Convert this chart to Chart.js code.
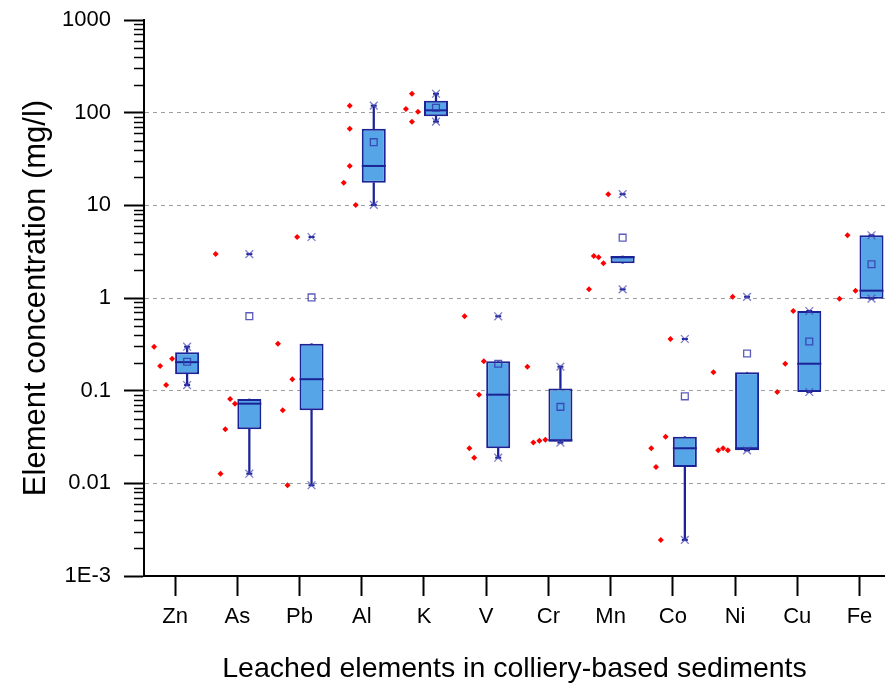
<!DOCTYPE html>
<html>
<head>
<meta charset="utf-8">
<title>Leached elements</title>
<script src="https://cdn.jsdelivr.net/npm/chart.js@4.4.1/dist/chart.umd.min.js"></script>
<style>
  html, body { margin: 0; padding: 0; background: #fff; overflow: hidden; }
  #wrap { width: 885px; height: 688px; position: relative; }
</style>
</head>
<body>
<div id="wrap"><canvas id="boxChart"></canvas></div>
<script>
// categories
const categories = ['Zn', 'As', 'Pb', 'Al', 'K', 'V', 'Cr', 'Mn', 'Co', 'Ni', 'Cu', 'Fe'];

// leached concentrations per element (mg/l), in worksheet order
const zn = [0.298, 0.185, 0.115, 0.221];
const as = [2.98, 0.0127, 0.0383, 0.0813, 0.0724];
const pb = [0.321, 0.0614, 0.00953, 0.133, 4.55];
const al = [119, 67.1, 26.6, 17.5, 10.1];
const k = [160, 109.6, 102.4, 80];
const v = [0.635, 0.0239, 0.0189, 0.0905, 0.2075];
const cr = [0.1815, 0.0275, 0.0288, 0.0296];
const mn = [1.24, 2.84, 2.75, 2.37, 13.2];
const co = [0.0239, 0.0150, 0.00245, 0.0319, 0.361];
const ni = [0.158, 0.0227, 0.0239, 0.0227, 1.03];
const cu = [0.0968, 0.1954, 0.724];
const fe = [0.984, 4.75, 1.2];
const series = [zn, as, pb, al, k, v, cr, mn, co, ni, cu, fe];

// y axis tick labels
const yTickValues = [0.001, 0.01, 0.1, 1, 10, 100, 1000];
const yTickLabels = ['1E-3', '0.01', '0.1', '1', '10', '100', '1000'];

Chart.defaults.font.family = "'Liberation Sans', Arial, sans-serif";
Chart.defaults.color = '#000';

const BOX = 0.386;   // box width, fraction of the category spacing
const BIN = 20;      // raw points in the same 20 mg/l bin are spread sideways

const boxFill = '#56a5e6';
const navy = '#1c2396';

// quartiles: empirical distribution with averaging
function quantile(sorted, p) {
    const np = sorted.length * p;
    if (Math.abs(np - Math.round(np)) < 1e-9) {
        const r = Math.round(np);
        return (sorted[r - 1] + sorted[r]) / 2;
    }
    return sorted[Math.ceil(np) - 1];
}

function boxStats(vals) {
    const s = [...vals].sort((a, b) => a - b);
    const q1 = quantile(s, 0.25);
    const med = quantile(s, 0.5);
    const q3 = quantile(s, 0.75);
    const iqr = q3 - q1;
    const hi = Math.max(q3, ...s.filter(x => x <= q3 + 1.5 * iqr));
    const lo = Math.min(q1, ...s.filter(x => x >= q1 - 1.5 * iqr));
    const mean = s.reduce((a, b) => a + b, 0) / s.length;
    return { q1, med, q3, hi, lo, mean, min: s[0], max: s[s.length - 1] };
}

// raw points sit left of the box, spread within their bin
function spread(vals, i) {
    const bins = {};
    vals.forEach(val => {
        const b = Math.floor(val / BIN);
        (bins[b] = bins[b] || []).push(val);
    });
    const seen = {};
    return vals.map(val => {
        const b = Math.floor(val / BIN);
        const m = bins[b].length;
        seen[b] = (seen[b] === undefined) ? 0 : seen[b] + 1;
        return { x: i - BOX / 2 + BOX * ((seen[b] + 0.5) / m - 0.5), y: val };
    });
}

const stats = series.map(boxStats);
const bx = i => i + BOX / 2;

const boxes = stats.map((s, i) => ({ x: bx(i), y: [s.q1, s.q3] }));
const upperWhisker = stats.map((s, i) => ({ x: bx(i), y: [s.q3, s.hi] }));
const lowerWhisker = stats.map((s, i) => ({ x: bx(i), y: [s.lo, s.q1] }));
const medians = stats.map((s, i) => ({ x: bx(i), y: s.med }));
const means = stats.map((s, i) => ({ x: bx(i), y: s.mean }));
const extremes = stats.flatMap((s, i) => [{ x: bx(i), y: s.min }, { x: bx(i), y: s.max }]);
const rawPoints = series.flatMap((vals, i) => spread(vals, i));

// minor ticks of the log axis
const minorTicks = {
    id: 'minorTicks',
    afterDraw(chart) {
        const y = chart.scales.y;
        const ctx = chart.ctx;
        const left = chart.chartArea.left;
        ctx.save();
        ctx.strokeStyle = '#000';
        ctx.lineWidth = 1.5;
        for (let d = -3; d < 3; d++) {
            for (let m = 2; m <= 9; m++) {
                const py = Math.round(y.getPixelForValue(m * Math.pow(10, d))) + 0.5;
                ctx.beginPath();
                ctx.moveTo(left - 10, py);
                ctx.lineTo(left, py);
                ctx.stroke();
            }
        }
        ctx.restore();
    }
};

new Chart(document.getElementById('boxChart'), {
    type: 'bar',
    data: {
        datasets: [
            {
                type: 'scatter', label: 'data', data: rawPoints, order: 1,
                pointStyle: 'rectRot', radius: 3, backgroundColor: '#ff0000', borderColor: '#ff0000', borderWidth: 0
            },
            {
                type: 'scatter', label: 'min/max', data: extremes, order: 2,
                pointStyle: 'crossRot', radius: 5.5, borderColor: 'rgba(70,70,180,0.7)', borderWidth: 1.3
            },
            {
                type: 'scatter', label: 'min/max bar', data: extremes, order: 2,
                pointStyle: 'line', radius: 3, borderColor: navy, borderWidth: 2
            },
            {
                type: 'scatter', label: 'mean', data: means, order: 3,
                pointStyle: 'rect', radius: 4.8, backgroundColor: 'rgba(0,0,0,0)', borderColor: 'rgba(50,50,170,0.8)', borderWidth: 1.3
            },
            {
                type: 'scatter', label: 'median', data: medians, order: 4,
                pointStyle: 'line', radius: 12, borderColor: navy, borderWidth: 2
            },
            {
                label: 'box', data: boxes, order: 5, grouped: false,
                backgroundColor: boxFill, borderColor: navy, borderWidth: 2, borderSkipped: false,
                barPercentage: BOX, categoryPercentage: 1
            },
            {
                label: 'upper whisker', data: upperWhisker, order: 6, grouped: false,
                backgroundColor: navy, borderWidth: 0, barThickness: 1.6
            },
            {
                label: 'lower whisker', data: lowerWhisker, order: 6, grouped: false,
                backgroundColor: navy, borderWidth: 0, barThickness: 1.6
            }
        ]
    },
    options: {
        responsive: true,
        maintainAspectRatio: false,
        animation: false,
        layout: { autoPadding: false, padding: { top: 20, left: 0, right: 0, bottom: 0 } },
        plugins: {
            legend: { display: false },
            tooltip: { enabled: false }
        },
        scales: {
            x: {
                type: 'linear',
                offset: false,
                min: -0.5,
                max: 11.41,
                afterBuildTicks: s => { s.ticks = categories.map((c, i) => ({ value: i })); },
                afterFit: s => { s.height = 112; s.paddingLeft = 0; s.paddingRight = 0; },
                ticks: {
                    callback: val => categories[val],
                    autoSkip: false, maxRotation: 0,
                    font: { size: 22 }, padding: 8
                },
                grid: { offset: false, drawOnChartArea: false, tickLength: 20, tickColor: '#000', tickWidth: 2 },
                border: { color: '#000', width: 2 },
                title: {
                    display: true,
                    text: 'Leached elements in colliery-based sediments',
                    font: { size: 28.5 },
                    padding: { top: 0, bottom: 2 }
                }
            },
            y: {
                type: 'logarithmic',
                min: 0.001,
                max: 1000,
                afterBuildTicks: s => { s.ticks = yTickValues.map(val => ({ value: val })); },
                afterFit: s => { s.width = 144; s.paddingTop = 0; s.paddingBottom = 0; },
                ticks: {
                    callback: val => yTickLabels[yTickValues.indexOf(val)],
                    font: { size: 22 }, padding: 13
                },
                grid: {
                    color: c => (c.tick && c.tick.value > 0.001 && c.tick.value < 1000) ? '#9e9e9e' : 'rgba(0,0,0,0)',
                    lineWidth: 1,
                    tickLength: 20, tickColor: '#000', tickWidth: 2
                },
                border: { color: '#000', width: 2, dash: [4, 4] },
                title: {
                    display: true,
                    text: 'Element concentration (mg/l)',
                    font: { size: 31 },
                    padding: { top: 18, bottom: 0 }
                }
            }
        }
    },
    plugins: [minorTicks]
});
</script>
</body>
</html>
